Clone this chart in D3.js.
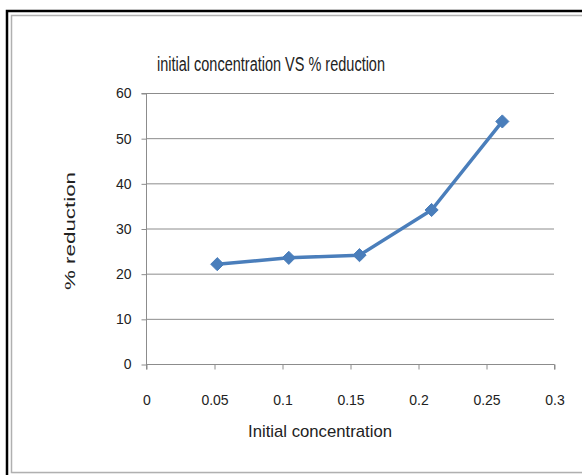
<!DOCTYPE html>
<html>
<head>
<meta charset="utf-8">
<script src="https://cdn.jsdelivr.net/npm/d3@7"></script>
<style>
html,body{margin:0;padding:0;background:#fff;}
svg{display:block;}
text{font-family:"Liberation Sans",Arial,sans-serif;fill:#222;}
</style>
</head>
<body>
<svg id="chart" width="582" height="475"></svg>
<script>
const concentration = [0.0524, 0.105, 0.157, 0.21, 0.262];
const reduction = [22.1, 23.5, 24.1, 34.1, 53.7];
const xTicks = [0, 0.05, 0.1, 0.15, 0.2, 0.25, 0.3];
const yTicks = [0, 10, 20, 30, 40, 50, 60];
const titleText = "initial concentration VS % reduction";
const xTitle = "Initial concentration";
const yTitle = "% reduction";

const svg = d3.select("#chart");
// outer frame
svg.append("rect").attr("x", 7).attr("y", 11).attr("width", 600).attr("height", 470)
  .attr("fill", "none").attr("stroke", "#000").attr("stroke-width", 2.5);
svg.append("rect").attr("x", 11.5).attr("y", 15.5).attr("width", 600).attr("height", 457)
  .attr("fill", "none").attr("stroke", "#b0b0b0").attr("stroke-width", 1.5);
svg.append("line").attr("x1", 12).attr("x2", 582).attr("y1", 473.5).attr("y2", 473.5)
  .attr("stroke", "#e6e6e6").attr("stroke-width", 1);

const pLeft = 146, pRight = 554, pTop = 93, pBottom = 364;
const x = d3.scaleLinear().domain([0, 0.3]).range([pLeft, pRight]);
const y = d3.scaleLinear().domain([0, 60]).range([pBottom, pTop]);

// gridlines
svg.append("g").selectAll("line").data(yTicks.filter(d => d > 0)).join("line")
  .attr("x1", pLeft).attr("x2", pRight)
  .attr("y1", d => y(d) + 0.5).attr("y2", d => y(d) + 0.5)
  .attr("stroke", "#8c8c8c").attr("stroke-width", 1);

// y axis
const yAxis = svg.append("g").attr("transform", `translate(${pLeft + 0.5},0.5)`)
  .call(d3.axisLeft(y).tickValues(yTicks).tickSize(5).tickPadding(10).tickFormat(d3.format("d")));
// x axis
const xAxis = svg.append("g").attr("transform", `translate(0.5,${pBottom + 0.5})`)
  .call(d3.axisBottom(x).tickValues(xTicks).tickSize(5).tickPadding(26).tickFormat(d => d === 0 ? "0" : String(d)));
[yAxis, xAxis].forEach(g => {
  g.select(".domain").attr("stroke", "#8c8c8c");
  g.selectAll(".tick line").attr("stroke", "#8c8c8c");
  g.selectAll(".tick text").attr("font-size", 14).attr("fill", "#222")
    .attr("font-family", '"Liberation Sans",Arial,sans-serif');
});
yAxis.select(".domain").attr("d", `M-5,${y(60)}H0V${pBottom + 5}`);
xAxis.select(".domain").attr("d", `M${pLeft},0H${pRight}V5`);

// line
const pts = concentration.map((c, i) => [c, reduction[i]]);
svg.append("path").datum(pts)
  .attr("d", d3.line().x(d => x(d[0])).y(d => y(d[1])))
  .attr("fill", "none").attr("stroke", "#4a7ebb").attr("stroke-width", 3.5)
  .attr("stroke-linejoin", "round");
svg.append("g").selectAll("path").data(pts).join("path")
  .attr("d", d3.symbol().type(d3.symbolDiamond2).size(110))
  .attr("transform", d => `translate(${x(d[0])},${y(d[1])})`)
  .attr("fill", "#4a7ebb").attr("stroke", "#4a7ebb").attr("stroke-width", 1);

// titles
svg.append("text").attr("x", 271).attr("y", 71).attr("text-anchor", "middle")
  .attr("font-size", 20).attr("textLength", 228).attr("lengthAdjust", "spacingAndGlyphs")
  .text(titleText);
svg.append("text").attr("x", 320).attr("y", 437).attr("text-anchor", "middle")
  .attr("font-size", 17).attr("textLength", 144).attr("lengthAdjust", "spacingAndGlyphs")
  .text(xTitle);
svg.append("text").attr("transform", "translate(75,231) rotate(-90)").attr("text-anchor", "middle")
  .attr("font-size", 15).attr("fill", "#444").attr("textLength", 118).attr("lengthAdjust", "spacingAndGlyphs")
  .attr("font-family", '"DejaVu Sans",sans-serif').text(yTitle);
</script>
</body>
</html>
